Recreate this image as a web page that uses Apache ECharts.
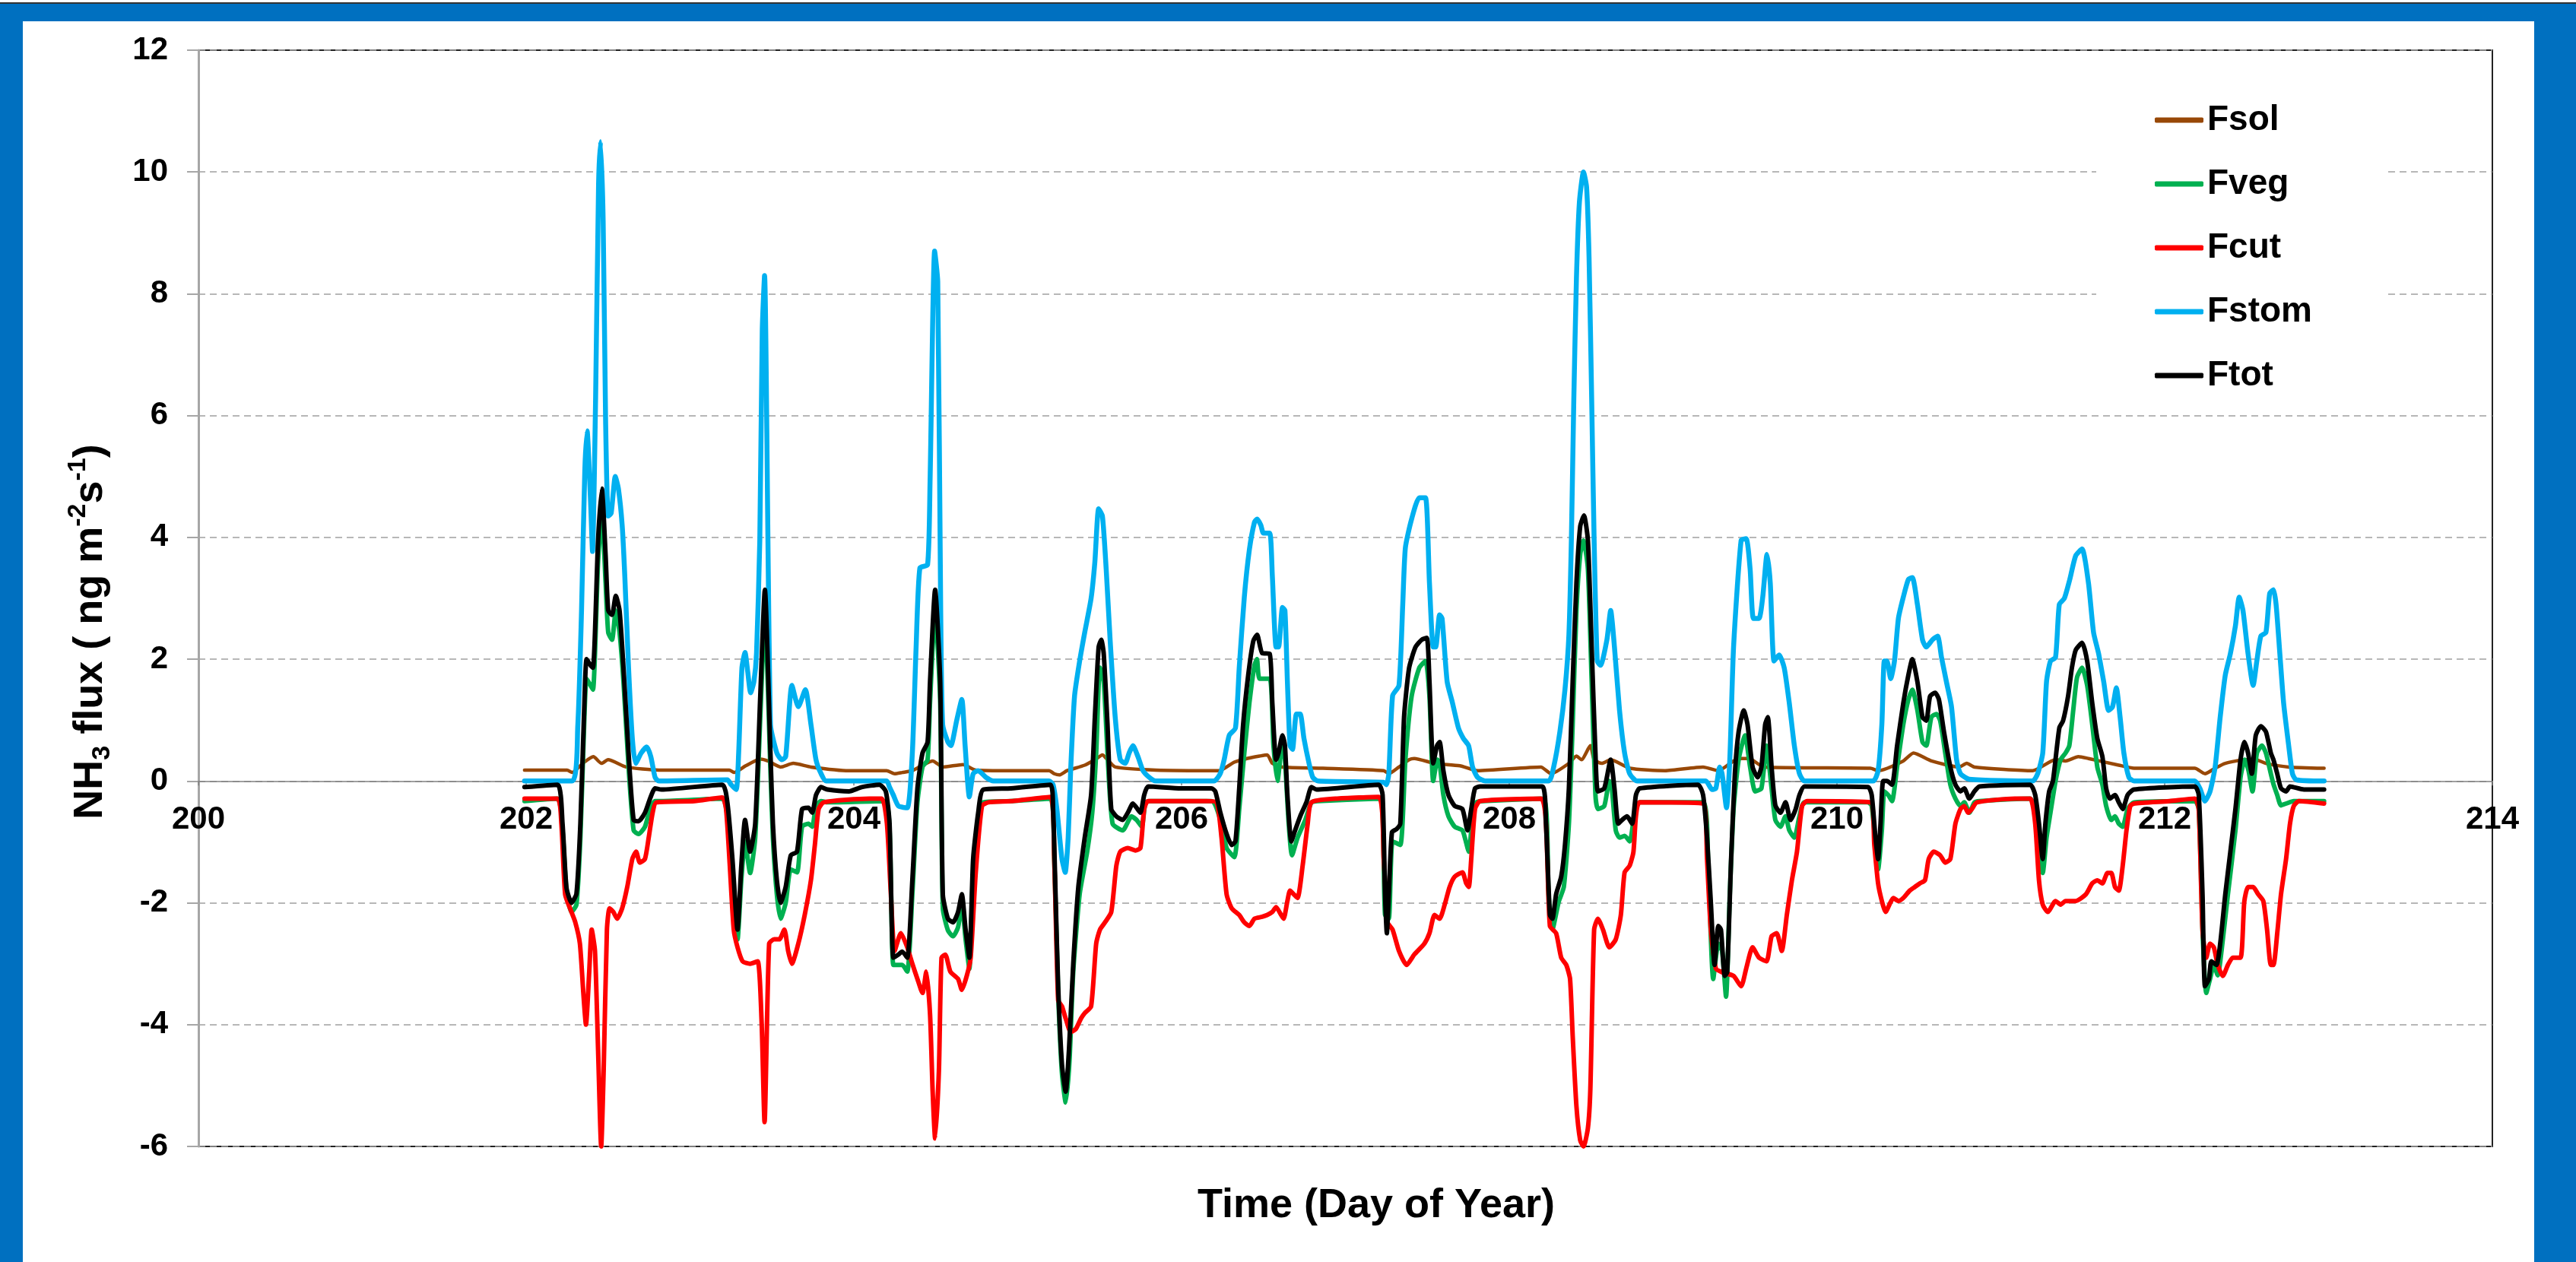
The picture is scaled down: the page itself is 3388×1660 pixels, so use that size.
<!DOCTYPE html>
<html><head><meta charset="utf-8">
<script src="https://cdn.jsdelivr.net/npm/echarts@6/dist/echarts.min.js"></script>
<style>
html,body{margin:0;padding:0;width:3388px;height:1660px;overflow:hidden;background:#fff;}
#frame{position:absolute;left:0;top:3px;width:3388px;height:1657px;background:#0070C0;border-top:2px solid #333;box-sizing:border-box;}
#chart{position:absolute;left:30px;top:28px;width:3303px;height:1632px;background:#fff;}
</style></head><body>
<div id="frame"></div><div id="chart"></div>
<script>
const seriesNames = ['Fsol','Fveg','Fcut','Fstom','Ftot'];
const seriesColors = ['#984807','#00B050','#FF0000','#00B0F0','#000000'];
const yTicks = {min:-6, max:12, step:2};
const xTicks = {min:200, max:214, step:2};

const fsol = [[201.99,0.18],[202.25,0.18],[202.28,0.14],[202.35,0.3],[202.41,0.4],[202.46,0.29],[202.5,0.35],[202.61,0.23],[202.81,0.18],[203.24,0.18],[203.27,0.14],[203.34,0.25],[203.43,0.36],[203.475,0.33],[203.553,0.23],[203.63,0.29],[203.738,0.23],[203.97,0.17],[204.2,0.17],[204.249,0.12],[204.295,0.14],[204.357,0.17],[204.419,0.26],[204.481,0.33],[204.543,0.23],[204.666,0.27],[204.744,0.18],[204.96,0.17],[205.192,0.17],[205.223,0.12],[205.254,0.1],[205.301,0.17],[205.409,0.26],[205.471,0.35],[205.517,0.43],[205.548,0.35],[205.595,0.23],[205.842,0.18],[206.229,0.17],[206.322,0.31],[206.399,0.37],[206.476,0.41],[206.523,0.43],[206.554,0.29],[206.616,0.23],[206.863,0.21],[207.234,0.17],[207.265,0.12],[207.327,0.23],[207.389,0.35],[207.42,0.37],[207.544,0.29],[207.698,0.25],[207.807,0.17],[208.193,0.23],[208.255,0.12],[208.364,0.29],[208.41,0.41],[208.441,0.35],[208.495,0.58],[208.518,0.35],[208.565,0.29],[208.619,0.35],[208.735,0.21],[208.951,0.17],[209.183,0.23],[209.276,0.17],[209.369,0.33],[209.415,0.37],[209.462,0.37],[209.555,0.23],[210.204,0.21],[210.251,0.17],[210.405,0.33],[210.467,0.46],[210.576,0.33],[210.746,0.23],[210.792,0.29],[210.839,0.23],[211.194,0.17],[211.334,0.35],[211.395,0.33],[211.473,0.4],[211.535,0.37],[211.72,0.26],[211.813,0.21],[212.184,0.21],[212.246,0.12],[212.308,0.21],[212.37,0.29],[212.494,0.35],[212.556,0.35],[212.617,0.29],[212.757,0.23],[212.973,0.21]];

const fstom = [[201.99,0],[202.28,0],[202.315,0.9],[202.338,2.8],[202.358,5.1],[202.372,5.75],[202.393,4.6],[202.405,3.77],[202.424,6.3],[202.442,9.8],[202.454,10.5],[202.47,9.2],[202.485,5.9],[202.501,4.35],[202.519,4.4],[202.544,5.0],[202.563,4.8],[202.586,4.2],[202.602,3.37],[202.625,1.86],[202.648,0.7],[202.668,0.29],[202.702,0.46],[202.736,0.56],[202.761,0.4],[202.787,0.06],[202.81,0],[203.228,0.02],[203.251,-0.06],[203.282,-0.14],[203.297,0.46],[203.317,1.86],[203.336,2.11],[203.352,1.8],[203.37,1.45],[203.39,1.63],[203.406,2.1],[203.426,3.95],[203.441,7.4],[203.455,8.3],[203.491,0.93],[203.53,0.46],[203.56,0.35],[203.584,0.4],[203.622,1.57],[203.661,1.22],[203.704,1.5],[203.738,0.93],[203.769,0.35],[203.8,0.12],[203.831,0],[204.2,0],[204.218,-0.1],[204.241,-0.23],[204.272,-0.41],[204.326,-0.44],[204.357,0.46],[204.38,2.2],[204.403,3.5],[204.45,3.55],[204.465,4.9],[204.493,8.7],[204.512,8.2],[204.53,2.8],[204.542,0.93],[204.574,0.64],[204.592,0.58],[204.628,1.0],[204.659,1.34],[204.679,0.58],[204.705,-0.26],[204.728,0.12],[204.759,0.17],[204.806,0.06],[204.852,0],[205.192,0],[205.216,-0.06],[205.239,-0.46],[205.27,-1.28],[205.29,-1.5],[205.308,-0.93],[205.324,0.23],[205.347,1.4],[205.378,1.97],[205.409,2.44],[205.448,3.0],[205.471,3.6],[205.494,4.47],[205.517,4.35],[205.54,3.48],[205.564,2.32],[205.595,1.05],[205.626,0.35],[205.656,0.29],[205.68,0.46],[205.703,0.58],[205.734,0.4],[205.765,0.17],[205.803,0.06],[205.842,0],[206.198,0],[206.236,0.12],[206.26,0.35],[206.291,0.75],[206.329,0.87],[206.352,1.86],[206.383,3.02],[206.414,3.8],[206.445,4.25],[206.461,4.3],[206.484,4.2],[206.5,4.07],[206.538,4.07],[206.554,3.37],[206.577,2.2],[206.592,2.2],[206.616,2.85],[206.631,2.8],[206.646,1.63],[206.662,0.58],[206.677,0.52],[206.701,1.1],[206.724,1.1],[206.747,0.7],[206.778,0.29],[206.801,0.06],[206.832,0],[207.234,-0.02],[207.25,-0.06],[207.265,0.12],[207.288,1.4],[207.327,1.57],[207.35,2.9],[207.366,3.83],[207.404,4.3],[207.451,4.65],[207.489,4.65],[207.513,3.25],[207.536,2.2],[207.551,2.2],[207.575,2.73],[207.59,2.67],[207.621,1.63],[207.652,1.3],[207.69,0.87],[207.72,0.7],[207.752,0.58],[207.776,0.23],[207.807,0.06],[207.853,0],[208.24,0],[208.271,0.23],[208.309,0.81],[208.34,1.5],[208.364,2.4],[208.379,3.95],[208.394,6.27],[208.41,8.25],[208.428,9.5],[208.453,10.0],[208.472,9.75],[208.487,8.6],[208.503,6.27],[208.518,3.95],[208.537,1.97],[208.557,1.9],[208.596,2.32],[208.619,2.8],[208.642,2.2],[208.673,1.16],[208.704,0.46],[208.735,0.12],[208.781,0],[209.199,0],[209.238,-0.14],[209.261,-0.12],[209.284,0.23],[209.299,0.12],[209.326,-0.44],[209.346,0.35],[209.369,2.2],[209.415,3.95],[209.446,3.98],[209.47,3.48],[209.49,2.67],[209.524,2.67],[209.547,3.02],[209.573,3.72],[209.593,3.25],[209.616,1.97],[209.647,2.07],[209.678,1.86],[209.709,1.28],[209.74,0.58],[209.771,0.12],[209.802,0],[210.22,0],[210.251,0.17],[210.274,0.93],[210.289,1.97],[210.305,1.97],[210.328,1.68],[210.351,1.97],[210.375,2.67],[210.405,3.02],[210.436,3.31],[210.46,3.34],[210.491,2.9],[210.522,2.32],[210.545,2.2],[210.583,2.32],[210.614,2.38],[210.638,2.03],[210.668,1.63],[210.699,1.22],[210.73,0.35],[210.754,0.12],[210.808,0.03],[211.194,0],[211.225,0.12],[211.256,0.46],[211.279,1.63],[211.303,1.97],[211.334,2.03],[211.357,2.9],[211.388,3.0],[211.42,3.3],[211.457,3.7],[211.496,3.81],[211.535,3.25],[211.566,2.44],[211.597,2.09],[211.628,1.63],[211.658,1.16],[211.682,1.22],[211.705,1.53],[211.728,1.05],[211.751,0.46],[211.782,0.06],[211.813,0],[212.184,0],[212.215,-0.12],[212.246,-0.33],[212.277,-0.17],[212.308,0.23],[212.339,1.05],[212.37,1.74],[212.401,2.09],[212.432,2.55],[212.455,3.02],[212.478,2.8],[212.509,2.09],[212.54,1.57],[212.563,1.98],[212.587,2.38],[212.618,2.44],[212.641,3.08],[212.664,3.14],[212.68,2.9],[212.703,2.09],[212.726,1.28],[212.757,0.58],[212.78,0.12],[212.803,0.02],[212.973,0]];

const ftot = [[201.99,-0.1],[202.191,-0.06],[202.222,-0.7],[202.246,-1.75],[202.277,-2.0],[202.307,-1.85],[202.331,-0.7],[202.354,1.16],[202.369,2.0],[202.393,1.9],[202.408,1.86],[202.439,3.95],[202.462,4.8],[202.485,3.7],[202.501,2.8],[202.524,2.73],[202.547,3.04],[202.57,2.8],[202.594,1.86],[202.625,0.46],[202.656,-0.64],[202.686,-0.66],[202.725,-0.52],[202.756,-0.29],[202.787,-0.12],[202.826,-0.14],[203.197,-0.06],[203.228,-0.35],[203.259,-1.28],[203.29,-2.44],[203.313,-1.4],[203.336,-0.64],[203.367,-1.16],[203.398,-0.7],[203.429,1.4],[203.457,3.14],[203.491,0.46],[203.506,-0.7],[203.53,-1.63],[203.553,-2.0],[203.584,-1.74],[203.615,-1.22],[203.653,-1.16],[203.684,-0.46],[203.723,-0.44],[203.746,-0.52],[203.769,-0.23],[203.8,-0.1],[203.839,-0.14],[203.97,-0.17],[204.048,-0.1],[204.156,-0.06],[204.195,-0.17],[204.218,-0.7],[204.241,-2.9],[204.272,-2.85],[204.295,-2.8],[204.326,-2.9],[204.357,-1.63],[204.388,-0.12],[204.419,0.46],[204.45,0.64],[204.465,1.63],[204.496,3.14],[204.527,1.63],[204.543,-1.86],[204.574,-2.26],[204.605,-2.32],[204.636,-2.15],[204.659,-1.86],[204.682,-2.44],[204.705,-2.9],[204.728,-1.28],[204.759,-0.52],[204.79,-0.14],[204.96,-0.12],[205.2,-0.06],[205.216,-0.46],[205.231,-1.86],[205.247,-3.37],[205.27,-4.65],[205.293,-5.1],[205.313,-4.41],[205.339,-3.0],[205.37,-1.74],[205.409,-0.93],[205.448,-0.23],[205.471,1.05],[205.494,2.2],[205.51,2.32],[205.525,2.09],[205.548,0.93],[205.571,-0.46],[205.602,-0.58],[205.641,-0.64],[205.672,-0.52],[205.703,-0.37],[205.726,-0.44],[205.749,-0.52],[205.772,-0.23],[205.796,-0.09],[205.997,-0.12],[206.182,-0.12],[206.206,-0.17],[206.237,-0.52],[206.275,-0.87],[206.306,-1.05],[206.329,-0.99],[206.352,-0.12],[206.376,0.93],[206.407,1.74],[206.438,2.3],[206.461,2.4],[206.492,2.1],[206.538,2.09],[206.554,1.28],[206.577,0.35],[206.592,0.46],[206.616,0.75],[206.631,0.58],[206.646,-0.23],[206.67,-0.99],[206.693,-0.81],[206.724,-0.58],[206.762,-0.35],[206.793,-0.1],[206.824,-0.14],[207.203,-0.06],[207.227,-0.23],[207.242,-1.86],[207.253,-2.5],[207.265,-1.86],[207.284,-0.84],[207.312,-0.79],[207.335,-0.7],[207.358,1.05],[207.389,1.86],[207.428,2.2],[207.466,2.32],[207.497,2.35],[207.513,1.63],[207.536,0.29],[207.559,0.58],[207.575,0.64],[207.598,0.17],[207.629,-0.23],[207.667,-0.41],[207.714,-0.46],[207.745,-0.81],[207.768,-0.46],[207.791,-0.12],[207.822,-0.09],[208.201,-0.09],[208.224,-0.7],[208.248,-2.2],[208.263,-2.26],[208.286,-1.86],[208.317,-1.57],[208.34,-1.05],[208.364,-0.12],[208.387,1.63],[208.41,3.25],[208.433,4.18],[208.456,4.36],[208.48,3.95],[208.503,2.2],[208.526,0.46],[208.541,-0.17],[208.58,-0.12],[208.619,0.35],[208.642,-0.12],[208.665,-0.7],[208.688,-0.64],[208.719,-0.58],[208.75,-0.7],[208.773,-0.23],[208.796,-0.12],[209.152,-0.06],[209.183,-0.23],[209.207,-0.93],[209.23,-1.98],[209.253,-3.02],[209.276,-2.38],[209.292,-2.44],[209.315,-3.2],[209.33,-3.14],[209.354,-1.28],[209.377,0.12],[209.4,0.81],[209.431,1.16],[209.454,0.93],[209.485,0.23],[209.516,0.06],[209.539,0.23],[209.562,0.93],[209.578,1.05],[209.601,0.23],[209.624,-0.4],[209.655,-0.52],[209.686,-0.35],[209.717,-0.64],[209.748,-0.46],[209.771,-0.23],[209.802,-0.09],[210.19,-0.1],[210.212,-0.23],[210.235,-0.93],[210.251,-1.28],[210.266,-0.7],[210.282,0],[210.305,0],[210.336,-0.06],[210.367,0.58],[210.405,1.28],[210.436,1.74],[210.46,2.0],[210.491,1.63],[210.522,1.05],[210.545,0.99],[210.568,1.39],[210.599,1.45],[210.622,1.34],[210.653,0.81],[210.692,0.23],[210.723,-0.06],[210.754,-0.17],[210.777,-0.12],[210.808,-0.29],[210.839,-0.17],[210.87,-0.09],[211.179,-0.06],[211.21,-0.23],[211.233,-0.7],[211.256,-1.28],[211.272,-0.7],[211.295,-0.17],[211.318,0],[211.357,0.87],[211.38,0.99],[211.411,1.4],[211.434,1.86],[211.457,2.15],[211.496,2.27],[211.527,1.97],[211.558,1.28],[211.589,0.7],[211.62,0.4],[211.643,-0.12],[211.666,-0.29],[211.697,-0.23],[211.72,-0.35],[211.744,-0.46],[211.774,-0.23],[211.813,-0.14],[212.184,-0.09],[212.208,-0.23],[212.231,-1.86],[212.246,-3.37],[212.27,-3.25],[212.285,-2.96],[212.316,-3.02],[212.339,-2.67],[212.37,-1.86],[212.401,-1.16],[212.432,-0.46],[212.463,0.35],[212.486,0.64],[212.509,0.46],[212.532,0.12],[212.556,0.75],[212.587,0.9],[212.618,0.81],[212.648,0.46],[212.664,0.35],[212.687,0.12],[212.71,-0.12],[212.741,-0.17],[212.765,-0.09],[212.85,-0.14],[212.973,-0.14]];

const fveg = [[201.99,-0.33],[202.191,-0.29],[202.222,-0.81],[202.246,-1.8],[202.277,-2.15],[202.307,-2.03],[202.331,-0.93],[202.354,0.93],[202.369,1.68],[202.393,1.57],[202.408,1.5],[202.439,3.6],[202.462,4.4],[202.485,3.25],[202.501,2.44],[202.524,2.32],[202.547,2.8],[202.57,2.44],[202.594,1.63],[202.625,0.23],[202.656,-0.81],[202.686,-0.87],[202.725,-0.75],[202.756,-0.46],[202.787,-0.33],[202.826,-0.33],[203.197,-0.29],[203.228,-0.58],[203.259,-1.51],[203.29,-2.6],[203.313,-1.63],[203.336,-0.99],[203.367,-1.51],[203.398,-0.93],[203.429,1.05],[203.457,2.73],[203.491,0.17],[203.506,-0.93],[203.53,-1.86],[203.553,-2.26],[203.584,-2.0],[203.615,-1.45],[203.653,-1.5],[203.684,-0.75],[203.723,-0.7],[203.746,-0.75],[203.769,-0.41],[203.8,-0.33],[203.839,-0.35],[204.187,-0.33],[204.218,-0.81],[204.241,-3.02],[204.272,-3.02],[204.295,-3.02],[204.326,-3.13],[204.357,-1.86],[204.388,-0.35],[204.419,0.23],[204.45,0.35],[204.465,1.3],[204.496,2.8],[204.527,1.3],[204.543,-2.09],[204.574,-2.45],[204.605,-2.55],[204.636,-2.4],[204.659,-2.03],[204.682,-2.6],[204.705,-3.08],[204.728,-1.5],[204.759,-0.7],[204.79,-0.35],[204.96,-0.33],[205.2,-0.29],[205.223,-1.28],[205.247,-3.48],[205.27,-4.8],[205.293,-5.28],[205.316,-4.6],[205.339,-3.13],[205.378,-1.86],[205.424,-1.16],[205.455,-0.52],[205.479,0.46],[205.502,1.86],[205.525,1.63],[205.548,0.46],[205.579,-0.7],[205.641,-0.81],[205.695,-0.58],[205.726,-0.64],[205.757,-0.75],[205.78,-0.35],[205.811,-0.33],[206.182,-0.33],[206.244,-0.7],[206.275,-1.1],[206.322,-1.25],[206.352,-0.46],[206.383,0.46],[206.414,1.28],[206.445,1.9],[206.46,2.0],[206.476,1.68],[206.538,1.68],[206.561,0.58],[206.585,0],[206.616,0.64],[206.631,0.35],[206.654,-0.7],[206.674,-1.22],[206.708,-0.93],[206.755,-0.64],[206.793,-0.35],[206.832,-0.33],[207.203,-0.29],[207.242,-2.2],[207.265,-2.26],[207.288,-0.99],[207.335,-1.05],[207.366,0.35],[207.404,1.39],[207.451,1.86],[207.489,1.97],[207.513,1.39],[207.536,0],[207.562,0.35],[207.575,0.29],[207.598,-0.23],[207.629,-0.58],[207.667,-0.75],[207.714,-0.81],[207.729,-0.93],[207.753,-1.16],[207.776,-0.58],[207.799,-0.35],[207.838,-0.33],[208.209,-0.29],[208.24,-1.86],[208.263,-2.44],[208.302,-1.98],[208.333,-1.74],[208.364,-0.7],[208.387,0.93],[208.41,2.8],[208.433,3.72],[208.453,3.95],[208.48,3.48],[208.503,1.63],[208.526,-0.23],[208.541,-0.46],[208.58,-0.41],[208.611,0],[208.626,-0.12],[208.65,-0.81],[208.673,-0.93],[208.704,-0.9],[208.735,-0.99],[208.766,-0.52],[208.796,-0.35],[209.183,-0.35],[209.214,-1.39],[209.245,-3.25],[209.276,-2.67],[209.299,-2.79],[209.323,-3.54],[209.346,-1.86],[209.369,-0.46],[209.4,0.35],[209.439,0.75],[209.47,0.23],[209.501,-0.17],[209.539,-0.12],[209.57,0.58],[209.601,-0.12],[209.624,-0.64],[209.655,-0.75],[209.686,-0.58],[209.709,-0.81],[209.74,-0.93],[209.771,-0.58],[209.802,-0.35],[210.19,-0.35],[210.212,-0.41],[210.235,-1.05],[210.251,-1.45],[210.274,-0.81],[210.289,-0.17],[210.313,-0.23],[210.336,-0.33],[210.367,0.23],[210.405,0.93],[210.436,1.34],[210.46,1.5],[210.491,1.16],[210.522,0.64],[210.545,0.58],[210.576,1.05],[210.607,1.1],[210.63,0.99],[210.661,0.46],[210.692,-0.06],[210.723,-0.29],[210.754,-0.41],[210.777,-0.35],[210.808,-0.52],[210.839,-0.35],[210.87,-0.33],[211.179,-0.29],[211.21,-0.46],[211.233,-0.93],[211.256,-1.51],[211.279,-0.93],[211.303,-0.52],[211.334,0],[211.365,0.35],[211.395,0.46],[211.418,0.58],[211.442,1.16],[211.465,1.7],[211.496,1.86],[211.527,1.57],[211.558,0.93],[211.589,0.23],[211.62,-0.06],[211.643,-0.41],[211.674,-0.64],[211.697,-0.58],[211.72,-0.7],[211.744,-0.75],[211.774,-0.46],[211.813,-0.35],[212.184,-0.33],[212.208,-0.46],[212.231,-2.44],[212.254,-3.48],[212.277,-3.25],[212.3,-3.02],[212.324,-3.19],[212.347,-2.79],[212.386,-1.86],[212.432,-0.81],[212.463,0.06],[212.489,0.35],[212.512,0.17],[212.536,-0.17],[212.563,0.46],[212.594,0.58],[212.618,0.46],[212.648,0.12],[212.664,-0.05],[212.687,-0.23],[212.71,-0.4],[212.741,-0.37],[212.788,-0.33],[212.973,-0.33]];

const fcut = [[201.99,-0.29],[202.191,-0.29],[202.215,-0.7],[202.238,-1.86],[202.269,-2.1],[202.3,-2.32],[202.328,-2.67],[202.349,-3.48],[202.365,-4.0],[202.385,-3.13],[202.4,-2.44],[202.42,-2.79],[202.439,-4.41],[202.458,-6.0],[202.473,-4.76],[202.493,-2.44],[202.509,-2.09],[202.532,-2.15],[202.555,-2.26],[202.586,-2.09],[202.617,-1.74],[202.648,-1.28],[202.671,-1.16],[202.694,-1.34],[202.725,-1.28],[202.748,-0.93],[202.772,-0.52],[202.795,-0.35],[203.027,-0.33],[203.197,-0.27],[203.22,-0.46],[203.243,-1.39],[203.267,-2.44],[203.29,-2.73],[203.321,-2.96],[203.367,-3.0],[203.413,-2.96],[203.437,-3.95],[203.455,-5.6],[203.483,-2.67],[203.514,-2.6],[203.545,-2.6],[203.576,-2.44],[203.599,-2.79],[203.622,-3.0],[203.661,-2.67],[203.7,-2.2],[203.738,-1.63],[203.762,-1.05],[203.785,-0.46],[203.816,-0.35],[204.094,-0.29],[204.171,-0.29],[204.202,-0.7],[204.226,-1.86],[204.249,-2.79],[204.287,-2.5],[204.326,-2.73],[204.357,-3.0],[204.388,-3.25],[204.419,-3.48],[204.442,-3.13],[204.465,-3.83],[204.481,-5.1],[204.496,-5.87],[204.519,-4.76],[204.535,-2.9],[204.558,-2.85],[204.589,-3.13],[204.636,-3.25],[204.659,-3.43],[204.69,-3.19],[204.713,-2.9],[204.744,-1.5],[204.782,-0.41],[204.821,-0.35],[204.96,-0.33],[205.2,-0.26],[205.223,-1.28],[205.247,-3.6],[205.27,-3.7],[205.293,-3.9],[205.324,-4.12],[205.355,-4.07],[205.386,-3.9],[205.409,-3.81],[205.448,-3.7],[205.479,-2.67],[205.502,-2.44],[205.533,-2.32],[205.571,-2.15],[205.602,-1.39],[205.626,-1.16],[205.672,-1.1],[205.718,-1.14],[205.749,-1.1],[205.772,-0.46],[205.796,-0.33],[206.151,-0.33],[206.213,-0.35],[206.244,-0.93],[206.275,-1.86],[206.306,-2.09],[206.352,-2.2],[206.383,-2.32],[206.414,-2.38],[206.445,-2.26],[206.492,-2.23],[206.523,-2.2],[206.554,-2.15],[206.577,-2.07],[206.608,-2.2],[206.623,-2.26],[206.646,-1.97],[206.662,-1.8],[206.685,-1.86],[206.708,-1.92],[206.739,-1.39],[206.77,-0.7],[206.793,-0.35],[206.94,-0.29],[207.203,-0.26],[207.234,-1.28],[207.257,-2.32],[207.288,-2.44],[207.327,-2.79],[207.374,-3.02],[207.42,-2.85],[207.482,-2.67],[207.513,-2.5],[207.544,-2.2],[207.575,-2.26],[207.606,-2.03],[207.636,-1.74],[207.667,-1.57],[207.714,-1.5],[207.737,-1.68],[207.753,-1.74],[207.768,-1.28],[207.791,-0.46],[207.822,-0.33],[208.193,-0.29],[208.224,-0.7],[208.248,-2.38],[208.286,-2.5],[208.317,-2.9],[208.348,-3.02],[208.371,-3.25],[208.387,-4.18],[208.41,-5.34],[208.433,-5.9],[208.453,-6.0],[208.48,-5.7],[208.495,-5.05],[208.518,-2.44],[208.541,-2.26],[208.572,-2.44],[208.611,-2.73],[208.65,-2.6],[208.681,-2.2],[208.704,-1.5],[208.735,-1.39],[208.758,-1.16],[208.773,-0.58],[208.796,-0.35],[209.183,-0.37],[209.207,-1.28],[209.23,-2.44],[209.261,-3.08],[209.3,-3.14],[209.369,-3.2],[209.415,-3.37],[209.446,-3.08],[209.485,-2.73],[209.524,-2.9],[209.57,-2.96],[209.601,-2.55],[209.632,-2.5],[209.663,-2.79],[209.694,-2.2],[209.725,-1.63],[209.756,-1.16],[209.787,-0.41],[209.818,-0.33],[210.204,-0.35],[210.228,-1.05],[210.251,-1.68],[210.274,-1.97],[210.297,-2.15],[210.32,-2.03],[210.344,-1.92],[210.375,-1.97],[210.405,-1.92],[210.444,-1.8],[210.475,-1.74],[210.506,-1.68],[210.537,-1.63],[210.56,-1.28],[210.591,-1.16],[210.63,-1.22],[210.661,-1.34],[210.692,-1.28],[210.723,-0.7],[210.754,-0.46],[210.777,-0.41],[210.8,-0.52],[210.823,-0.46],[210.854,-0.35],[211.086,-0.29],[211.179,-0.29],[211.21,-0.7],[211.233,-1.63],[211.256,-2.03],[211.287,-2.15],[211.334,-1.97],[211.365,-2.03],[211.395,-1.97],[211.457,-1.97],[211.519,-1.86],[211.558,-1.68],[211.589,-1.63],[211.62,-1.68],[211.651,-1.51],[211.674,-1.51],[211.697,-1.74],[211.72,-1.8],[211.744,-1.39],[211.767,-0.81],[211.79,-0.41],[211.813,-0.37],[212.03,-0.33],[212.184,-0.29],[212.208,-0.46],[212.231,-2.44],[212.254,-2.9],[212.277,-2.67],[212.3,-2.73],[212.324,-3.02],[212.355,-3.2],[212.386,-3.02],[212.416,-2.9],[212.463,-2.9],[212.486,-1.98],[212.509,-1.74],[212.54,-1.74],[212.571,-1.86],[212.602,-1.97],[212.625,-2.44],[212.648,-3.02],[212.664,-3.02],[212.687,-2.5],[212.71,-1.86],[212.741,-1.28],[212.765,-0.7],[212.788,-0.41],[212.819,-0.33],[212.973,-0.37]];

const seriesData = [fsol, fveg, fcut, fstom, ftot];
const lineWidths = [4.5, 6, 6, 6.5, 6];
const FONT = '"Liberation Sans", Arial, sans-serif';

const GRID = {left: 231, top: 38, width: 3017, height: 1442};
const zeroOffset = -GRID.height * (0 - yTicks.min) / (yTicks.max - yTicks.min);

const chart = echarts.init(document.getElementById('chart'), null, {renderer:'canvas'});
chart.setOption({
  animation: false,
  backgroundColor: '#fff',
  grid: {left: GRID.left, top: GRID.top, width: GRID.width, height: GRID.height, show: true, borderColor: '#222', borderWidth: 2, backgroundColor: 'transparent'},
  xAxis: {
    type: 'value', min: xTicks.min, max: xTicks.max, interval: xTicks.step,
    position: 'bottom', offset: zeroOffset,
    axisLine: {show: true, onZero: false, lineStyle: {color: '#808080', width: 1.5}},
    axisTick: {show: true, length: 6, lineStyle: {color: '#808080', width: 1.5}},
    axisLabel: {fontSize: 42, fontWeight: 'bold', color: '#000', fontFamily: FONT, margin: 30, showMinLabel: true, showMaxLabel: true},
    splitLine: {show: false}
  },
  yAxis: {
    type: 'value', min: yTicks.min, max: yTicks.max, interval: yTicks.step,
    axisLine: {show: true, onZero: false, lineStyle: {color: '#a6a6a6', width: 3}},
    axisTick: {show: true, length: 15, lineStyle: {color: '#a6a6a6', width: 2}},
    axisLabel: {fontSize: 42, fontWeight: 'bold', color: '#000', fontFamily: FONT, margin: 40},
    splitLine: {show: true, lineStyle: {color: '#a0a0a0', width: 1.5, type: [9, 6]}}
  },
  legend: {
    orient: 'vertical', left: 2727, top: 80, padding: [25, 95, 15, 77],
    backgroundColor: '#fff', itemWidth: 64, itemHeight: 7, itemGap: 34, icon: 'roundRect',
    textStyle: {fontSize: 46, fontWeight: 'bold', color: '#000', fontFamily: FONT, lineHeight: 50},
    data: seriesNames
  },
  graphic: [
    {type: 'text', x: 89, y: 803, rotation: Math.PI / 2, z: 100,
     style: {text: '{n|NH}{s|3}{n| flux ( ng m}{p|-2}{n|s}{p|-1}{n|)}', align: 'center', verticalAlign: 'middle',
       rich: {
         n: {fontSize: 54, fontWeight: 'bold', fontFamily: FONT, fill: '#000', lineHeight: 66, verticalAlign: 'middle'},
         s: {fontSize: 34, fontWeight: 'bold', fontFamily: FONT, fill: '#000', lineHeight: 66, verticalAlign: 'bottom'},
         p: {fontSize: 34, fontWeight: 'bold', fontFamily: FONT, fill: '#000', lineHeight: 66, verticalAlign: 'top'}
       }}},
    {type: 'text', x: 1780, y: 1558, z: 100,
     style: {text: 'Time (Day of Year)', align: 'center', verticalAlign: 'middle', fill: '#000',
       font: 'bold 54px ' + FONT}}
  ],
  series: seriesNames.map((name, i) => ({
    name: name, type: 'line', data: seriesData[i], showSymbol: false, symbol: 'none',
    smooth: 0.2, lineStyle: {color: seriesColors[i], width: lineWidths[i], cap: 'round', join: 'round'},
    itemStyle: {color: seriesColors[i]}, z: 2 + i
  }))
});
</script></body></html>
